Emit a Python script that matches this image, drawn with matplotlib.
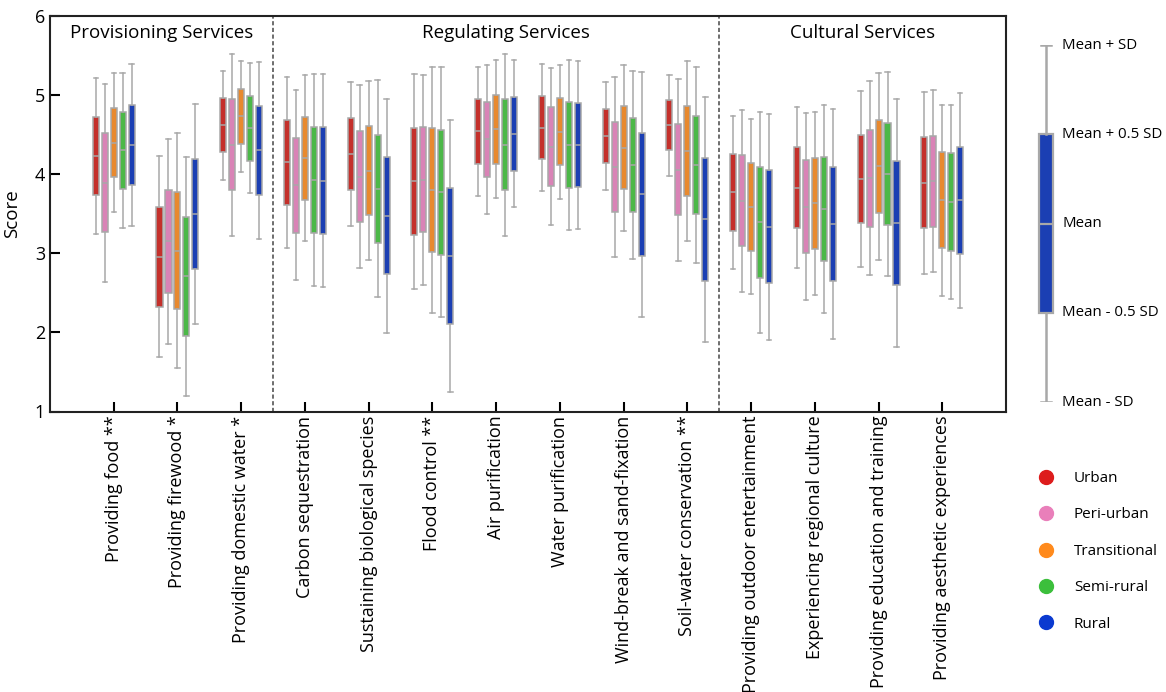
import numpy as np
import matplotlib
matplotlib.use("Agg")
import matplotlib.pyplot as plt
from matplotlib.lines import Line2D

plt.rcParams['font.family'] = ['Open Sans', 'DejaVu Sans']

services = ['Providing food **', 'Providing firewood *', 'Providing domestic water *',
            'Carbon sequestration', 'Sustaining biological species', 'Flood control **',
            'Air purification', 'Water purification', 'Wind-break and sand-fixation',
            'Soil-water conservation **', 'Providing outdoor entertainment',
            'Experiencing regional culture', 'Providing education and training',
            'Providing aesthetic experiences']
zones = ['Urban', 'Peri-urban', 'Transitional', 'Semi-rural', 'Rural']
sections = ['Provisioning Services', 'Regulating Services', 'Cultural Services']

# mean score per service, one list per zone
urban_mean = [4.23, 2.955, 4.62, 4.15, 4.255, 3.91, 4.54, 4.59, 4.48, 4.62, 3.77, 3.83, 3.94, 3.89]
peri_mean = [3.89, 3.15, 4.375, 3.86, 3.97, 3.93, 4.44, 4.35, 4.09, 4.055, 3.665, 3.59, 3.95, 3.91]
trans_mean = [4.40, 3.035, 4.73, 4.20, 4.045, 3.80, 4.57, 4.535, 4.335, 4.29, 3.59, 3.63, 4.10, 3.67]
semi_mean = [4.30, 2.71, 4.58, 3.93, 3.815, 3.77, 4.375, 4.37, 4.12, 4.12, 3.39, 3.56, 4.00, 3.65]
rural_mean = [4.37, 3.495, 4.30, 3.92, 3.475, 2.97, 4.51, 4.37, 3.745, 3.43, 3.335, 3.37, 3.385, 3.67]

# standard deviations
urban_sd = [0.99, 1.27, 0.69, 1.08, 0.91, 1.36, 0.82, 0.80, 0.68, 0.64, 0.97, 1.02, 1.11, 1.15]
peri_sd = [1.25, 1.30, 1.15, 1.20, 1.16, 1.33, 0.94, 0.99, 1.14, 1.15, 1.15, 1.18, 1.23, 1.15]
trans_sd = [0.88, 1.49, 0.70, 1.05, 1.13, 1.56, 0.87, 0.85, 1.05, 1.14, 1.11, 1.16, 1.18, 1.21]
semi_sd = [0.98, 1.51, 0.82, 1.34, 1.37, 1.58, 1.15, 1.08, 1.19, 1.24, 1.40, 1.31, 1.29, 1.23]
rural_sd = [1.02, 1.39, 1.12, 1.35, 1.48, 1.72, 0.93, 1.06, 1.55, 1.55, 1.43, 1.45, 1.57, 1.36]

means = [urban_mean, peri_mean, trans_mean, semi_mean, rural_mean]
sds = [urban_sd, peri_sd, trans_sd, semi_sd, rural_sd]

box_colors = ['#c4302b', '#d983b6', '#e8892e', '#4cb848', '#1b3fb3']
dot_colors = ['#dd1c1c', '#e97fba', '#ff8a1c', '#3cbf3c', '#0b3ad0']
edge = '#a8a8a8'


def stats_for(m, s):
    # box spans mean +/- 0.5 SD, whiskers mean +/- SD
    return dict(med=m, q1=m - 0.5 * s, q3=m + 0.5 * s,
                whislo=m - s, whishi=m + s, fliers=[])


fig = plt.figure(figsize=(11.66, 6.92), dpi=100)
ax = fig.add_axes([50 / 1166, 1 - 411.5 / 692, 956 / 1166, 395.5 / 692])

x = np.arange(len(services))
step = 0.141
for k in range(len(zones)):
    st = [stats_for(means[k][i], sds[k][i]) for i in range(len(services))]
    ax.bxp(st, positions=x + (k - 2) * step, widths=0.095, patch_artist=True,
           showfliers=False, manage_ticks=False, capwidths=0.07,
           boxprops=dict(facecolor=box_colors[k], edgecolor=edge, linewidth=1.1),
           medianprops=dict(color=edge, linewidth=1.1),
           whiskerprops=dict(color=edge, linewidth=1.1),
           capprops=dict(color=edge, linewidth=1.1))

for xd in [2.5, 9.5]:
    ax.axvline(xd, color='#555555', linestyle=(0, (2.5, 1.5)), linewidth=1.2)

ax.text(0.75, 5.78, sections[0], ha='center', va='center', fontsize=13.5)
ax.text(6.15, 5.78, sections[1], ha='center', va='center', fontsize=13.5)
ax.text(11.75, 5.78, sections[2], ha='center', va='center', fontsize=13.5)

ax.set_xlim(-1, 14)
ax.set_ylim(1, 6)
ax.set_xticks(x)
ax.set_xticklabels(services, rotation=90, fontsize=11.8)
ax.set_yticks([1, 2, 3, 4, 5, 6])
ax.tick_params(direction='in', length=7, width=1.5, labelsize=13)
ax.tick_params(axis='x', pad=3)
ax.set_ylabel('Score', fontsize=13.5, labelpad=10)
for sp in ax.spines.values():
    sp.set_linewidth(1.5)
    sp.set_color('#222222')

# key explaining the box elements
kx = fig.add_axes([1030 / 1166, (692 - 402) / 692, 130 / 1166, 357 / 692])
kx.bxp([stats_for(0.0, 1.0)], positions=[0.123], widths=0.115, patch_artist=True,
       showfliers=False, capwidths=0.07,
       boxprops=dict(facecolor=box_colors[4], edgecolor=edge, linewidth=1.6),
       medianprops=dict(color=edge, linewidth=1.6),
       whiskerprops=dict(color=edge, linewidth=1.8),
       capprops=dict(color=edge, linewidth=1.8))
kx.set_xlim(0, 1)
kx.set_ylim(-1, 1)
kx.axis('off')
key_labels = ['Mean + SD', 'Mean + 0.5 SD', 'Mean', 'Mean - 0.5 SD', 'Mean - SD']
for lab, yv in zip(key_labels, [1, 0.5, 0, -0.5, -1]):
    kx.text(0.25, yv, lab, ha='left', va='center', fontsize=10.8)

handles = [Line2D([], [], marker='o', linestyle='none', markersize=10,
                  markerfacecolor=c, markeredgecolor=c) for c in dot_colors]
fig.legend(handles, zones, loc='upper left', bbox_to_anchor=(1031 / 1166, 1 - 465 / 692),
           frameon=False, fontsize=11, labelspacing=1.4, handletextpad=1.2,
           handlelength=1.2, borderaxespad=0)

fig.savefig('out.png', dpi=100)
